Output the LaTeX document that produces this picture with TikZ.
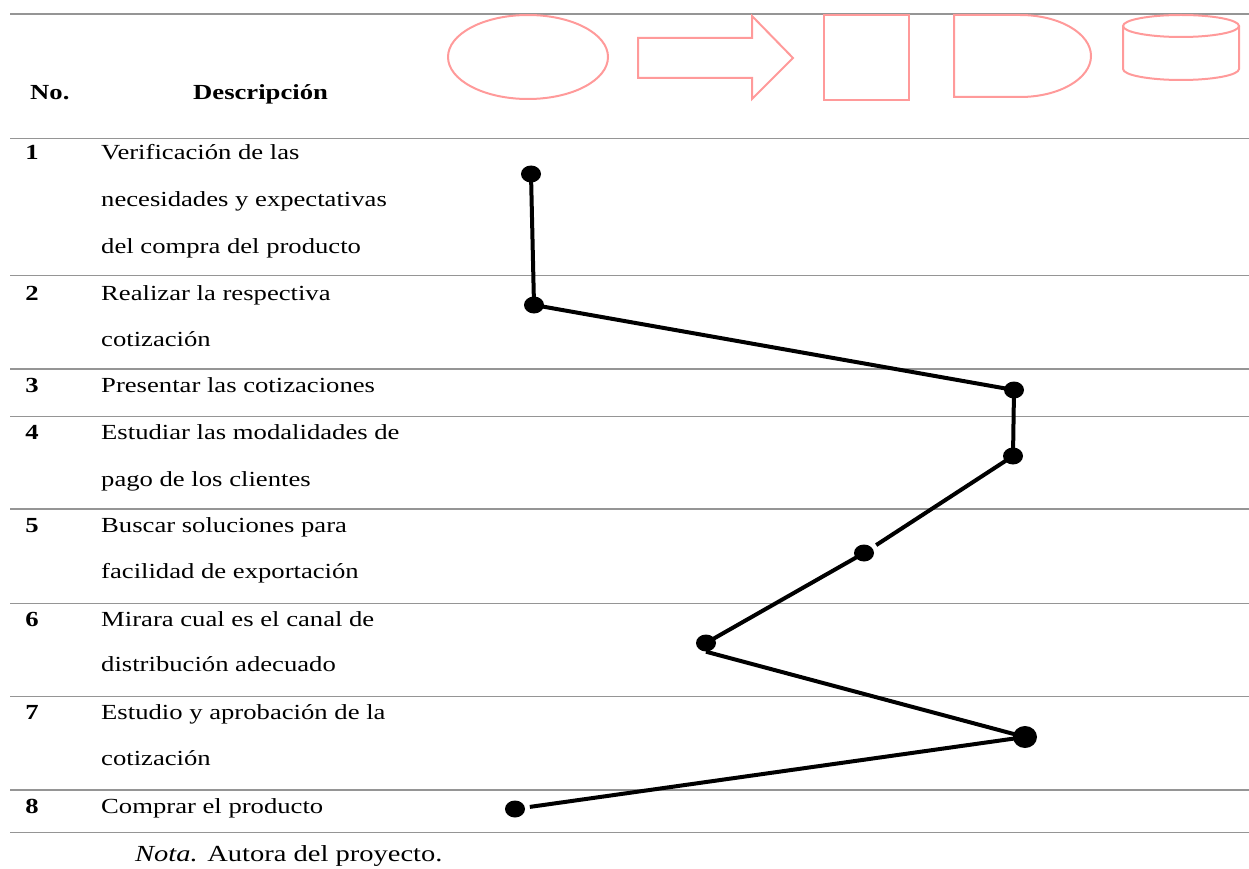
\documentclass[tikz,border=0pt]{standalone}
\usepackage{fontspec}
\setmainfont[FakeStretch=1.24]{Liberation Serif}
\usepackage{tikz}
\usetikzlibrary{shapes.geometric}
\definecolor{shapepink}{HTML}{FF9A9A}
\definecolor{rulegray}{HTML}{959595}

\begin{document}
\begin{tikzpicture}
		[x=1pt,y=-1pt,
		 txt/.style= {anchor=base west,inner sep=0pt,font=\fontsize{21.5}{25}\selectfont},
		 num/.style= {anchor=base,inner sep=0pt,font=\fontsize{21.5}{25}\selectfont\bfseries},
		 dot/.style= {ellipse,fill=black,inner sep=0pt,minimum width=20pt,minimum height=17pt},
		 far/.style= {outer sep=5pt},
		 link/.style= {line width=4pt,black},
		 rule/.style= {line width=1.6pt,rulegray},
		 shp/.style= {line width=2pt,shapepink}]

		\useasboundingbox (0,0) rectangle (1249,869);

		% table rules
		\foreach \y in {14,138.5,275.5,369,416.5,509,603.5,696.5,790,832.5}
			\draw[rule] (10,\y) -- (1249,\y);

		% header
		\node[txt,font=\fontsize{21.5}{25}\selectfont\bfseries] (hno) at (30,100) {No.};
		\node[txt,font=\fontsize{21.5}{25}\selectfont\bfseries] (hdesc) at (193,100) {Descripción};

		\draw[shp] (528,57) ellipse [x radius=80pt, y radius=42pt];
		\draw[shp] (638,38) -- (752,38) -- (752,16) -- (793,58) -- (752,99)
			-- (752,78) -- (638,78) -- cycle;
		\draw[shp] (824,15) rectangle (909,100);
		\draw[shp] (954,15) -- (1020,15)
			arc [start angle=90, end angle=-90, x radius=71pt, y radius=41pt]
			-- (954,97) -- cycle;
		\draw[shp] (1181,26) ellipse [x radius=58pt, y radius=11pt];
		\draw[shp] (1123,26) -- (1123,69)
			arc [start angle=180, end angle=360, x radius=58pt, y radius=11pt]
			-- (1239,26);

		% rows
		\node[num] (n1) at (32,160) {1};
		\node[txt] (t1a) at (101,160) {Verificación de las};
		\node[txt] (t1b) at (101,206.5) {necesidades y expectativas};
		\node[txt] (t1c) at (101,253) {del compra del producto};

		\node[num] (n2) at (32,300.5) {2};
		\node[txt] (t2a) at (101,300.5) {Realizar la respectiva};
		\node[txt] (t2b) at (101,346) {cotización};

		\node[num] (n3) at (32,392) {3};
		\node[txt] (t3a) at (101,392) {Presentar las cotizaciones};

		\node[num] (n4) at (32,439.5) {4};
		\node[txt] (t4a) at (101,439.5) {Estudiar las modalidades de};
		\node[txt] (t4b) at (101,486) {pago de los clientes};

		\node[num] (n5) at (32,532) {5};
		\node[txt] (t5a) at (101,532) {Buscar soluciones para};
		\node[txt] (t5b) at (101,578.5) {facilidad de exportación};

		\node[num] (n6) at (32,626) {6};
		\node[txt] (t6a) at (101,626) {Mirara cual es el canal de};
		\node[txt] (t6b) at (101,671.5) {distribución adecuado};

		\node[num] (n7) at (32,719.5) {7};
		\node[txt] (t7a) at (101,719.5) {Estudio y aprobación de la};
		\node[txt] (t7b) at (101,765.5) {cotización};

		\node[num] (n8) at (32,813) {8};
		\node[txt] (t8a) at (101,813) {Comprar el producto};

		\node[txt,font=\fontsize{23}{27}\selectfont] (nota) at (135,861)
			{\textit{Nota.} Autora del proyecto.};

		% process points
		\node[dot] (d1) at (531,174) {};
		\node[dot] (d2) at (534,305) {};
		\node[dot] (d3) at (1014,390) {};
		\node[dot] (d4) at (1013,456) {};
		\node[dot,far] (d5) at (864,553) {};
		\node[dot] (d6) at (706,643) {};
		\node[dot,minimum width=24pt,minimum height=22pt] (d7) at (1025,737) {};
		\node[dot,far] (d8) at (515,809) {};

		\draw[link] (d1.center) -- (d2.center) -- (d3.center) -- (d4.center) -- (d5);
		\draw[link] (d5.center) -- (d6.center);
		\draw[link] (d6.south) -- (d7.center) -- (d8);

	\end{tikzpicture}
\end{document}
